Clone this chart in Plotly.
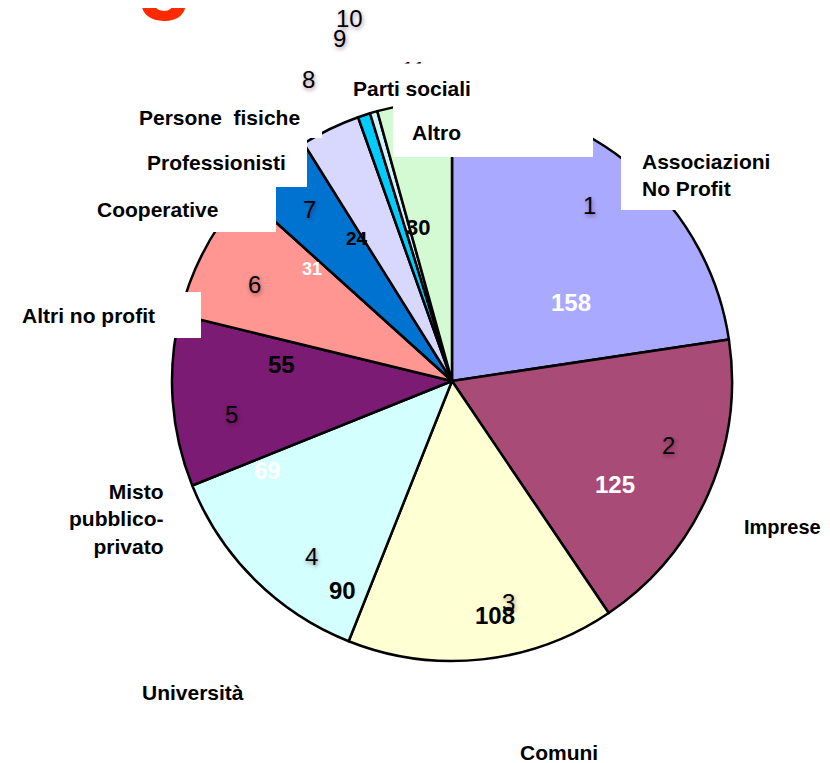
import plotly.graph_objects as go

# ---------------- data ----------------
categories = ["Associazioni No Profit", "Imprese", "Comuni", "Università",
              "Misto pubblico-privato", "Altri no profit", "Cooperative",
              "Professionisti", "Persone fisiche", "Parti sociali", "Altro"]
values = [158, 125, 108, 90, 69, 55, 31, 24, 5, 3, 30]
slice_index = ["1", "2", "3", "4", "5", "6", "7", "8", "9", "10", "11"]
colors = ["#A9A9FF", "#A84B77", "#FFFFD4", "#D4FFFF", "#7B1B74", "#FF9691",
          "#0073D0", "#D8D8FF", "#00CCFF", "#D0F4FF", "#D4FAD4"]

W, H = 830, 763
OFF = 8  # page body margin


def px(x, y):
    return (x - OFF) / W, 1 - (y - OFF) / H


fig = go.Figure()
fig.add_trace(go.Pie(
    labels=categories, values=values, sort=False, direction="clockwise",
    rotation=0, textinfo="none", hoverinfo="label+value",
    marker=dict(colors=colors, line=dict(color="black", width=2.5)),
    domain=dict(x=[(172 - OFF) / W, (732 - OFF) / W],
                y=[1 - (661 - OFF) / H, 1 - (101 - OFF) / H]),
    showlegend=False,
))

# white label boxes laid over the pie (as in the original)
boxes = [(393, 95, 593, 157), (621, 140, 770, 210), (130, 100, 322, 138),
         (135, 138, 307, 187), (85, 187, 276, 232), (10, 292, 201, 338)]
shapes = []
for x0, y0, x1, y1 in boxes:
    a0, b1 = px(x0, y1)
    a1, b0 = px(x1, y0)
    shapes.append(dict(type="rect", xref="paper", yref="paper", layer="above",
                       x0=a0, x1=a1, y0=b1, y1=b0,
                       fillcolor="white", line=dict(width=0)))

FONT = "Arial, Liberation Sans, sans-serif"
ann = []


def add(x, y, text, size, color="black", xanchor="center", yanchor="middle", **kw):
    ax, ay = px(x, y)
    ann.append(dict(x=ax, y=ay, xref="paper", yref="paper", showarrow=False,
                    xanchor=xanchor, yanchor=yanchor, text=text,
                    font=dict(family=FONT, size=size, color=color,
                              **kw.pop("fontkw", {})), **kw))


# red partial title glyph at the very top
add(164, 41, "<b>3</b>", 90, "#FF2A00", yanchor="bottom")

# slice index labels
idx_pos = [(589, 205), (668, 445), (508, 602), (311, 556), (231, 414),
           (254, 285), (309, 210), (308, 80), (339, 39), (349, 18), (413, 70)]
for t, (x, y) in zip(slice_index, idx_pos):
    add(x, y, t, 24, fontkw=dict(shadow="1px 2px 4px rgba(60,0,40,0.45)"))

# value labels
val_pos = {0: (571, 303, "white", 24), 1: (615, 485, "white", 24),
           2: (495, 615, "black", 24), 3: (342, 590, "black", 24),
           4: (267, 470, "white", 24), 5: (281, 364, "black", 24),
           6: (312, 269, "white", 18), 7: (357, 239, "black", 19),
           10: (418, 228, "black", 22)}
for i, (x, y, c, s) in val_pos.items():
    add(x, y, "<b>%d</b>" % values[i], s, c)

# category labels
cat_text = {0: "Associazioni<br>No Profit", 4: "Misto<br>pubblico-<br>privato",
            8: "Persone&nbsp; fisiche"}
cat_pos = {0: (640, 175, "left", 21), 1: (782, 527, "center", 20),
           2: (559, 752, "center", 21), 3: (193, 692, "center", 21),
           4: (165, 519, "right", 21), 5: (88, 315, "center", 21),
           6: (157, 209, "center", 21), 7: (216, 162, "center", 21),
           8: (219, 118, "center", 21), 10: (437, 133, "center", 21)}
for i, (x, y, al, s) in cat_pos.items():
    add(x, y, "<b>%s</b>" % cat_text.get(i, categories[i]), s,
        xanchor=al, align=al)

# "Parti sociali" with its white box (covers part of the "11")
add(412, 63, "<b>%s</b>" % categories[9], 21, yanchor="top", valign="bottom",
    width=140, height=36, borderpad=0, bgcolor="white")

fig.update_layout(width=W, height=H, margin=dict(l=0, r=0, t=0, b=0),
                  paper_bgcolor="white", plot_bgcolor="white",
                  shapes=shapes, annotations=ann, showlegend=False)

fig.write_html("out.html")
